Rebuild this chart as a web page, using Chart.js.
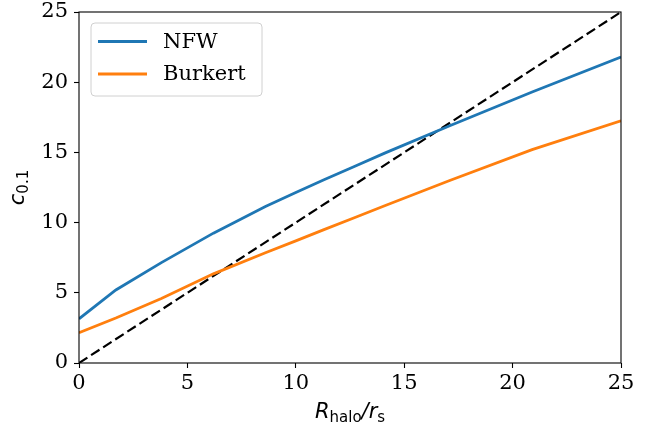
<!DOCTYPE html>
<html>
<head>
<meta charset="utf-8">
<script src="https://cdn.jsdelivr.net/npm/chart.js@4.4.0/dist/chart.umd.min.js"></script>
<style>
  html, body { margin: 0; padding: 0; background: #fff; }
  #wrap { width: 665px; height: 432px; }
</style>
</head>
<body>
<div id="wrap"><canvas id="chart" width="665" height="432"></canvas></div>
<script>
// values
const rHalo = [0, 1.7, 3.8, 6.2, 8.6, 10, 11.3, 12.7, 14.1, 17.1, 20.9, 25];
const nfw = [3.15, 5.2, 7.15, 9.25, 11.15, 12.15, 13.05, 14.0, 14.95, 16.9, 19.3, 21.8];
const burkert = [2.15, 3.2, 4.6, 6.35, 7.85, 8.7, 9.5, 10.35, 11.2, 13.0, 15.2, 17.25];
const diagX = [0, 25];
const diagY = [0, 25];
const xTicks = [0, 5, 10, 15, 20, 25];
const yTicks = [0, 5, 10, 15, 20, 25];

const seriesNames = ['NFW', 'Burkert'];
const seriesColors = ['#1f77b4', '#ff7f0e'];

function pts(xs, ys){ return xs.map((x,i)=>({x:x, y:ys[i]})); }

const tickFont = { family: '"DejaVu Serif", serif', size: 21 };

// frame, inset legend and math-style axis labels
const decor = {
  id: 'decor',
  afterDraw(chart){
    const ctx = chart.ctx, a = chart.chartArea;
    ctx.save();
    ctx.strokeStyle = '#000'; ctx.lineWidth = 1.1;
    ctx.strokeRect(a.left, a.top, a.right - a.left, a.bottom - a.top);

    // legend box
    const lx = a.left + 12, ly = a.top + 11, lw = 171, lh = 73;
    ctx.beginPath();
    ctx.roundRect(lx, ly, lw, lh, 4);
    ctx.fillStyle = 'rgba(255,255,255,0.8)'; ctx.fill();
    ctx.strokeStyle = '#d0d0d0'; ctx.lineWidth = 1; ctx.stroke();
    ctx.font = '21px "DejaVu Serif", serif';
    ctx.textBaseline = 'middle'; ctx.textAlign = 'left';
    seriesNames.forEach((name,i)=>{
      const yy = ly + 18.5 + i*32.5;
      ctx.strokeStyle = seriesColors[i]; ctx.lineWidth = 2.8;
      ctx.beginPath(); ctx.moveTo(lx + 7, yy); ctx.lineTo(lx + 56, yy); ctx.stroke();
      ctx.fillStyle = '#000'; ctx.fillText(name, lx + 72, yy + 1);
    });

    // x label: R_halo / r_s
    const parts = [
      {t:'R', f:'italic 21px "DejaVu Sans"', dy:0},
      {t:'halo', f:'15px "DejaVu Sans"', dy:4},
      {t:'/', f:'italic 21px "DejaVu Sans"', dy:0},
      {t:'r', f:'italic 21px "DejaVu Sans"', dy:0},
      {t:'s', f:'15px "DejaVu Sans"', dy:4}
    ];
    ctx.fillStyle = '#000'; ctx.textBaseline = 'alphabetic';
    let total = 0;
    parts.forEach(p=>{ ctx.font = p.f; p.w = ctx.measureText(p.t).width; total += p.w; });
    let cx = (a.left + a.right)/2 - total/2;
    const by = a.bottom + 55;
    parts.forEach(p=>{ ctx.font = p.f; ctx.fillText(p.t, cx, by + p.dy); cx += p.w; });

    // y label: c_0.1
    ctx.translate(24, (a.top + a.bottom)/2);
    ctx.rotate(-Math.PI/2);
    const yp = [
      {t:'c', f:'italic 21px "DejaVu Sans"', dy:0},
      {t:'0.1', f:'15px "DejaVu Sans"', dy:4}
    ];
    total = 0;
    yp.forEach(p=>{ ctx.font = p.f; p.w = ctx.measureText(p.t).width; total += p.w; });
    cx = -total/2;
    yp.forEach(p=>{ ctx.font = p.f; ctx.fillText(p.t, cx, p.dy); cx += p.w; });
    ctx.restore();
  }
};

new Chart(document.getElementById('chart'), {
  type: 'line',
  data: {
    datasets: [
      { label: seriesNames[0], data: pts(rHalo, nfw), borderColor: seriesColors[0], borderWidth: 2.8, pointRadius: 0, tension: 0, fill: false },
      { label: seriesNames[1], data: pts(rHalo, burkert), borderColor: seriesColors[1], borderWidth: 2.8, pointRadius: 0, tension: 0, fill: false },
      { label: 'diag', data: pts(diagX, diagY), borderColor: '#000', borderWidth: 2.2, borderDash: [10, 4.4], pointRadius: 0, tension: 0, fill: false }
    ]
  },
  options: {
    responsive: false,
    animation: false,
    layout: { padding: { left: 0, right: 44, top: 12, bottom: 0 } },
    plugins: { legend: { display: false }, tooltip: { enabled: false } },
    scales: {
      x: {
        type: 'linear', min: 0, max: 25,
        afterBuildTicks: s => { s.ticks = xTicks.map(v=>({value:v})); },
        afterFit: s => { s.height = 69; s.paddingLeft = 0; s.paddingRight = 0; },
        border: { display: false },
        grid: { drawOnChartArea: false, drawTicks: true, tickLength: 5, color: '#000', tickWidth: 1.1 },
        ticks: { color: '#000', font: tickFont, padding: 3, maxRotation: 0 }
      },
      y: {
        type: 'linear', min: 0, max: 25,
        afterBuildTicks: s => { s.ticks = yTicks.map(v=>({value:v})); },
        afterFit: s => { s.width = 79; s.paddingTop = 0; s.paddingBottom = 0; },
        border: { display: false },
        grid: { drawOnChartArea: false, drawTicks: true, tickLength: 5, color: '#000', tickWidth: 1.1 },
        ticks: { color: '#000', font: tickFont, padding: 6 }
      }
    }
  },
  plugins: [decor]
});
</script>
</body>
</html>
